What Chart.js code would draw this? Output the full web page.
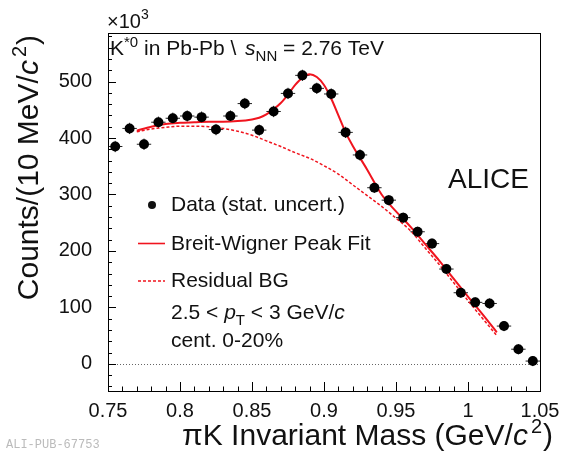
<!DOCTYPE html>
<html>
<head>
<meta charset="utf-8">
<title>K*0 in Pb-Pb invariant mass</title>
<script src="https://cdn.jsdelivr.net/npm/chart.js@4.4.1/dist/chart.umd.min.js"></script>
<style>
  html, body { margin: 0; padding: 0; background: #fff; }
  #wrap { width: 562px; height: 459px; }
</style>
</head>
<body>
<div id="wrap"><canvas id="chart" width="562" height="459"></canvas></div>
<script>
// Values, counts in units of 10^3
const massBins = [0.755, 0.765, 0.775, 0.785, 0.795, 0.805, 0.815, 0.825, 0.835, 0.845,
                  0.855, 0.865, 0.875, 0.885, 0.895, 0.905, 0.915, 0.925, 0.935, 0.945,
                  0.955, 0.965, 0.975, 0.985, 0.995, 1.005, 1.015, 1.025, 1.035, 1.045];
const counts = [385, 417, 389, 428, 435, 439, 437, 415, 439, 461,
                414, 447, 479, 511, 488, 478, 410, 370, 312, 290,
                259, 234, 213, 168, 126, 109, 107, 67, 26, 5];
const countErr = [10, 10, 10, 10, 10, 10, 10, 10, 10, 10,
                  10, 10, 10, 10, 10, 10, 10, 10, 9, 9,
                  9, 9, 9, 9, 9, 9, 9, 9, 9, 9];
const binHalfWidth = 0.005;

// Breit-Wigner peak fit (solid)
const fitMass = [0.77, 0.78, 0.79, 0.80, 0.81, 0.82, 0.83, 0.84, 0.85, 0.855,
                 0.86, 0.865, 0.87, 0.875, 0.88, 0.885, 0.89, 0.895, 0.90, 0.905,
                 0.91, 0.915, 0.92, 0.93, 0.94, 0.95, 0.96, 0.97, 0.98, 0.99,
                 1.00, 1.01, 1.02];
const fitCounts = [413, 420, 425, 427, 428, 429, 429, 430, 433, 436,
                   442, 451, 462, 477, 494, 507, 513, 508, 494, 470,
                   440, 410, 386, 344, 300, 270, 243, 213, 183, 151,
                   119, 88, 56];

// Residual background (dashed)
const bgMass = [0.77, 0.78, 0.79, 0.80, 0.81, 0.82, 0.83, 0.84, 0.85, 0.86,
                0.87, 0.88, 0.89, 0.90, 0.91, 0.92, 0.93, 0.94, 0.95, 0.96,
                0.97, 0.98, 0.99, 1.00, 1.01, 1.02];
const bgCounts = [411, 416, 419, 421, 421, 420, 417, 412, 405, 395,
                  385, 374, 364, 351, 336, 317, 298, 279, 258, 236,
                  206, 176, 144, 112, 81, 50];

const xTickValues = [0.75, 0.8, 0.85, 0.9, 0.95, 1.0, 1.05];
const xTickLabels = ['0.75', '0.8', '0.85', '0.9', '0.95', '1', '1.05'];
const yTickValues = [0, 100, 200, 300, 400, 500];

const FONT = '"Liberation Sans", Arial, Helvetica, sans-serif';
const RED = '#f0141e';

function toPoints(xs, ys) {
    return xs.map((v, i) => ({ x: v, y: ys[i] }));
}

// draws a run of text pieces (normal / italic / super / subscript) one after another
function drawRich(ctx, x, y, parts, align) {
    const fontOf = p => (p.italic ? 'italic ' : '') + p.size + 'px ' + FONT;
    let total = 0;
    parts.forEach(p => {
        ctx.font = fontOf(p);
        total += ctx.measureText(p.t).width + (p.gap || 0);
    });
    let cx = align === 'right' ? x - total : x;
    parts.forEach(p => {
        ctx.font = fontOf(p);
        cx += p.gap || 0;
        ctx.fillText(p.t, cx, y + (p.dy || 0));
        cx += ctx.measureText(p.t).width;
    });
}

const rootStyle = {
    id: 'rootStyle',
    beforeDatasetsDraw(chart) {
        const { ctx, chartArea: a, scales: { x, y } } = chart;
        ctx.save();
        // dotted zero line
        ctx.strokeStyle = '#666';
        ctx.lineWidth = 1;
        ctx.setLineDash([1, 2]);
        const y0 = Math.round(y.getPixelForValue(0)) + 0.5;
        ctx.beginPath();
        ctx.moveTo(a.left, y0);
        ctx.lineTo(a.right, y0);
        ctx.stroke();
        ctx.setLineDash([]);

        // error bars
        ctx.strokeStyle = '#222';
        massBins.forEach((m, i) => {
            const px = x.getPixelForValue(m);
            const py = y.getPixelForValue(counts[i]);
            ctx.beginPath();
            ctx.moveTo(x.getPixelForValue(m - binHalfWidth), py);
            ctx.lineTo(x.getPixelForValue(m + binHalfWidth), py);
            ctx.moveTo(px, y.getPixelForValue(counts[i] - countErr[i]));
            ctx.lineTo(px, y.getPixelForValue(counts[i] + countErr[i]));
            ctx.stroke();
        });
        ctx.restore();
    },
    afterDraw(chart) {
        const { ctx, chartArea: a, scales: { x, y } } = chart;
        ctx.save();

        // frame
        ctx.strokeStyle = '#000';
        ctx.lineWidth = 1;
        ctx.strokeRect(Math.round(a.left) + 0.5, Math.round(a.top) + 0.5,
                       Math.round(a.right - a.left), Math.round(a.bottom - a.top));

        // inward ticks, ROOT style
        ctx.beginPath();
        for (let k = 0; k <= 30; k++) {
            const v = 0.75 + k * 0.01;
            const px = Math.round(x.getPixelForValue(v)) + 0.5;
            const len = k % 5 === 0 ? 9 : 4.5;
            ctx.moveTo(px, a.bottom);
            ctx.lineTo(px, a.bottom - len);
        }
        for (let v = -40; v <= 580; v += 20) {
            const py = Math.round(y.getPixelForValue(v)) + 0.5;
            const len = v % 100 === 0 ? 8 : 4;
            ctx.moveTo(a.left, py);
            ctx.lineTo(a.left + len, py);
        }
        ctx.stroke();

        ctx.fillStyle = '#111';
        ctx.textBaseline = 'alphabetic';
        ctx.textAlign = 'left';

        // exponent
        drawRich(ctx, 107, 28, [
            { t: '\u00d710', size: 20 },
            { t: '3', size: 14, dy: -9 }
        ]);

        // header
        drawRich(ctx, 110, 55, [
            { t: 'K', size: 21 },
            { t: '*0', size: 15, dy: -8 },
            { t: ' in Pb-Pb \\ ', size: 21 },
            { t: 's', size: 21, italic: true, gap: 3 },
            { t: 'NN', size: 15, dy: 6 },
            { t: ' = 2.76 TeV', size: 21 }
        ]);

        // ALICE
        ctx.font = '28px ' + FONT;
        ctx.fillText('ALICE', 448, 188);

        // legend
        ctx.beginPath();
        ctx.arc(152, 205, 4, 0, Math.PI * 2);
        ctx.fill();
        ctx.font = '21px ' + FONT;
        ctx.fillText('Data (stat. uncert.)', 171, 211);

        ctx.strokeStyle = RED;
        ctx.lineWidth = 1.6;
        ctx.beginPath();
        ctx.moveTo(138, 243.5);
        ctx.lineTo(165, 243.5);
        ctx.stroke();
        ctx.fillText('Breit-Wigner Peak Fit', 171, 249.5);

        ctx.setLineDash([3, 2]);
        ctx.lineWidth = 1.3;
        ctx.beginPath();
        ctx.moveTo(138, 281);
        ctx.lineTo(165, 281);
        ctx.stroke();
        ctx.setLineDash([]);
        ctx.fillText('Residual BG', 171, 287);

        drawRich(ctx, 171, 319, [
            { t: '2.5 < ', size: 21 },
            { t: 'p', size: 21, italic: true },
            { t: 'T', size: 15, dy: 6 },
            { t: ' < 3 GeV/', size: 21 },
            { t: 'c', size: 21, italic: true }
        ]);
        ctx.font = '21px ' + FONT;
        ctx.fillText('cent. 0-20%', 171, 347);

        // axis titles
        drawRich(ctx, 553, 445, [
            { t: '\u03c0K Invariant Mass (GeV/', size: 30 },
            { t: 'c', size: 30, italic: true },
            { t: '2', size: 20, dy: -12, gap: 3 },
            { t: ')', size: 30, gap: 1 }
        ], 'right');

        ctx.save();
        ctx.translate(38, 35);
        ctx.rotate(-Math.PI / 2);
        drawRich(ctx, 0, 0, [
            { t: 'Counts/(10 MeV/', size: 30 },
            { t: 'c', size: 30, italic: true },
            { t: '2', size: 20, dy: -12, gap: 3 },
            { t: ')', size: 30, gap: 1 }
        ], 'right');
        ctx.restore();

        // publication tag
        ctx.fillStyle = '#bbbbbb';
        ctx.font = '12px "Liberation Mono", "Courier New", monospace';
        ctx.fillText('ALI-PUB-67753', 6, 448);

        ctx.restore();
    }
};

const chart = new Chart(document.getElementById('chart'), {
    type: 'scatter',
    data: {
        datasets: [
            {
                label: 'Data (stat. uncert.)',
                data: toPoints(massBins, counts),
                backgroundColor: '#000',
                borderColor: '#000',
                pointRadius: 5,
                pointBorderWidth: 0
            },
            {
                label: 'Breit-Wigner Peak Fit',
                data: toPoints(fitMass, fitCounts),
                showLine: true,
                borderColor: RED,
                borderWidth: 2,
                pointRadius: 0,
                cubicInterpolationMode: 'monotone'
            },
            {
                label: 'Residual BG',
                data: toPoints(bgMass, bgCounts),
                showLine: true,
                borderColor: RED,
                borderWidth: 1.5,
                borderDash: [3, 2],
                pointRadius: 0,
                cubicInterpolationMode: 'monotone'
            }
        ]
    },
    options: {
        responsive: false,
        devicePixelRatio: 1,
        animation: false,
        layout: { padding: { top: 33, right: 22, left: 0, bottom: 0 } },
        plugins: {
            legend: { display: false },
            tooltip: { enabled: false }
        },
        scales: {
            x: {
                type: 'linear',
                min: 0.75,
                max: 1.05,
                grid: { display: false },
                border: { display: false },
                afterBuildTicks: s => { s.ticks = xTickValues.map(v => ({ value: v })); },
                afterFit: s => { s.height = 68; },
                ticks: {
                    autoSkip: false,
                    maxRotation: 0,
                    padding: 0,
                    color: '#111',
                    font: { family: FONT, size: 20 },
                    callback: (v, i) => xTickLabels[i]
                }
            },
            y: {
                type: 'linear',
                min: -48,
                max: 586,
                grid: { display: false },
                border: { display: false },
                afterBuildTicks: s => { s.ticks = yTickValues.map(v => ({ value: v })); },
                afterFit: s => { s.width = 108; },
                ticks: {
                    padding: 8,
                    color: '#111',
                    font: { family: FONT, size: 20 },
                    callback: v => String(v)
                }
            }
        }
    },
    plugins: [rootStyle]
});
</script>
</body>
</html>
